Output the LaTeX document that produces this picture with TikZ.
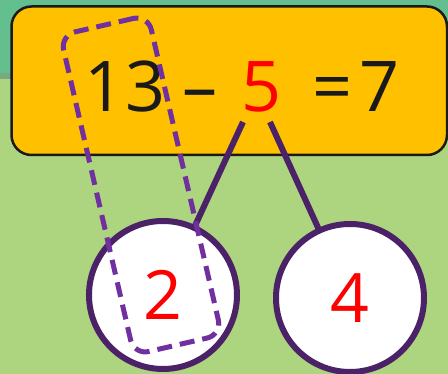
\documentclass[tikz,border=0pt]{standalone}
\usepackage{fontspec}
\setmainfont{Open Sans}
\usepackage{tikz}
\usetikzlibrary{positioning, calc, shapes, arrows.meta}

\definecolor{bggreen}{HTML}{ADD47F}
\definecolor{topteal}{HTML}{63BF8E}
\definecolor{shadeband}{HTML}{78A97F}
\definecolor{boxyellow}{HTML}{FFC000}
\definecolor{darkplum}{HTML}{4B2267}
\definecolor{dashplum}{HTML}{7030A0}
\definecolor{inkblack}{HTML}{1A1A1A}

\begin{document}
\begin{tikzpicture}[x=1pt, y=1pt,
    bignum/.style={anchor=base, inner sep=0pt, text=inkblack, font=\fontsize{70}{80}\selectfont},
    part/.style={circle, draw=darkplum, line width=6pt, fill=white, minimum size=148pt, inner sep=0pt,
        text=red, font=\fontsize{68}{78}\selectfont},
    link/.style={draw=darkplum, line width=6pt},
    groupbox/.style={draw=dashplum, line width=5pt, dash pattern=on 15pt off 8pt, rounded corners=15pt,
        minimum width=90pt, minimum height=328pt, inner sep=0pt}]
    \useasboundingbox (0,0) rectangle (448,374);
    \fill[bggreen] (0,0) rectangle (448,374);
    \fill[topteal] (0,301) rectangle (448,374);
    \fill[shadeband] (0,295) rectangle (448,301);
    \draw[boxyellow, fill=boxyellow, rounded corners=20pt] (11.5,219) rectangle (447,367.5);
    \draw[inkblack, line width=2.5pt, rounded corners=20pt] (11.5,219) rectangle (447,367.5);
    \node[bignum] (thirteen) at (125,262) {13};
    \node[bignum] (minus) at (200,262) {–};
    \node[bignum, text=red] (five) at (262,262) {5};
    \node[bignum] (equals) at (333,262) {=};
    \node[bignum] (seven) at (380,262) {7};
    \coordinate (leftfoot) at (243,252);
    \coordinate (rightfoot) at (270,252);
    \draw[link] (leftfoot) -- (163,79);
    \draw[link] (rightfoot) -- (350,76);
    \node[part] (two) at (163,79) {2};
    \node[part] (four) at (350,76) {4};
    \node[groupbox, rotate=13] (group) at (141,189) {};
\end{tikzpicture}
\end{document}
